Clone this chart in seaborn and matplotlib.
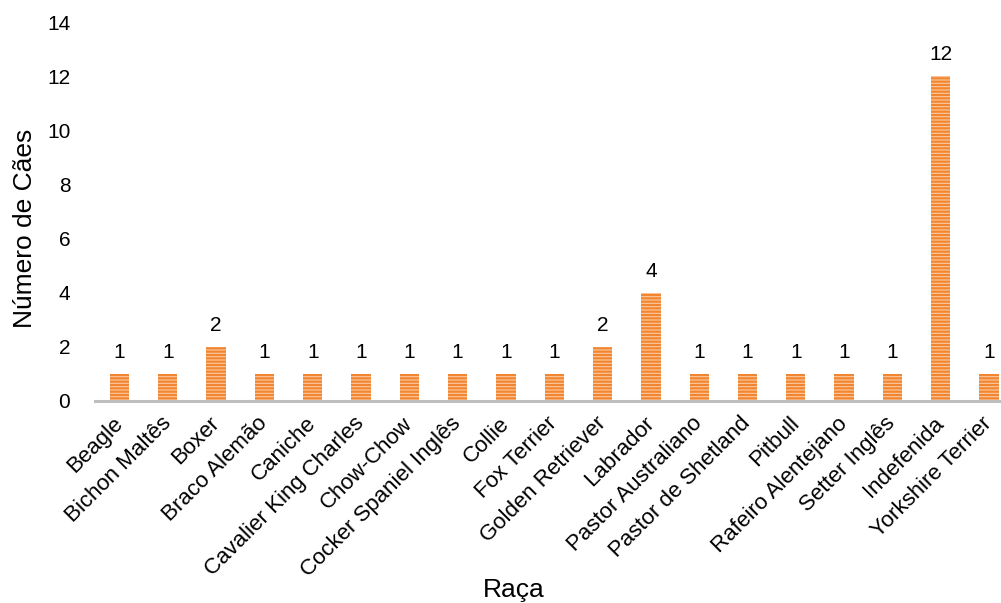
import matplotlib
matplotlib.use("Agg")
import matplotlib.pyplot as plt
import seaborn as sns
import pandas as pd

racas = ["Beagle", "Bichon Maltês", "Boxer", "Braco Alemão", "Caniche",
         "Cavalier King Charles", "Chow-Chow", "Cocker Spaniel Inglês", "Collie",
         "Fox Terrier", "Golden Retriever", "Labrador", "Pastor Australiano",
         "Pastor de Shetland", "Pitbull", "Rafeiro Alentejano", "Setter Inglês",
         "Indefenida", "Yorkshire Terrier"]
caes = [1, 1, 2, 1, 1, 1, 1, 1, 1, 1, 2, 4, 1, 1, 1, 1, 1, 12, 1]
y_ticks = [0, 2, 4, 6, 8, 10, 12, 14]

df = pd.DataFrame({"Raça": racas, "Cães": caes})

sns.set_theme(style="white")
plt.rcParams["font.family"] = ["Liberation Sans", "DejaVu Sans"]
plt.rcParams["hatch.linewidth"] = 1.6

fig = plt.figure(figsize=(10.01, 6.03), dpi=100)
ax = fig.add_axes([0.0952, 0.335, 0.917, 0.6285])

sns.barplot(data=df, x="Raça", y="Cães", ax=ax, width=0.4,
            color="#FBC9A2", saturation=1)

# striped fill: light base with dense horizontal hatch lines
for p in ax.patches:
    p.set_hatch("-----")
    p.set_edgecolor("#F28630")
    p.set_linewidth(0)

ax.bar_label(ax.containers[0], labels=[str(v) for v in caes],
             padding=8.5, fontsize=15, color="black")

ax.set_ylim(0, 14)
ax.set_yticks(y_ticks)
ax.set_yticklabels([str(t) for t in y_ticks], fontsize=15, color="black")
ax.set_xlim(-0.5, len(racas) - 0.5)
ax.tick_params(axis="y", length=0, pad=18)
ax.tick_params(axis="x", length=0, pad=14)
plt.setp(ax.get_xticklabels(), rotation=45, ha="right", va="center",
         rotation_mode="anchor", fontsize=16, color="black")

for s in ["top", "right", "left"]:
    ax.spines[s].set_visible(False)
ax.spines["bottom"].set_color("#BFBFBF")
ax.spines["bottom"].set_linewidth(2.2)

ax.set_ylabel("Número de Cães", fontsize=19, color="black")
ax.yaxis.set_label_coords(-0.064, 0.456)
ax.set_xlabel("Raça", fontsize=19, color="black")
ax.xaxis.set_label_coords(0.456, -0.468)

fig.savefig("out.png", dpi=100)
